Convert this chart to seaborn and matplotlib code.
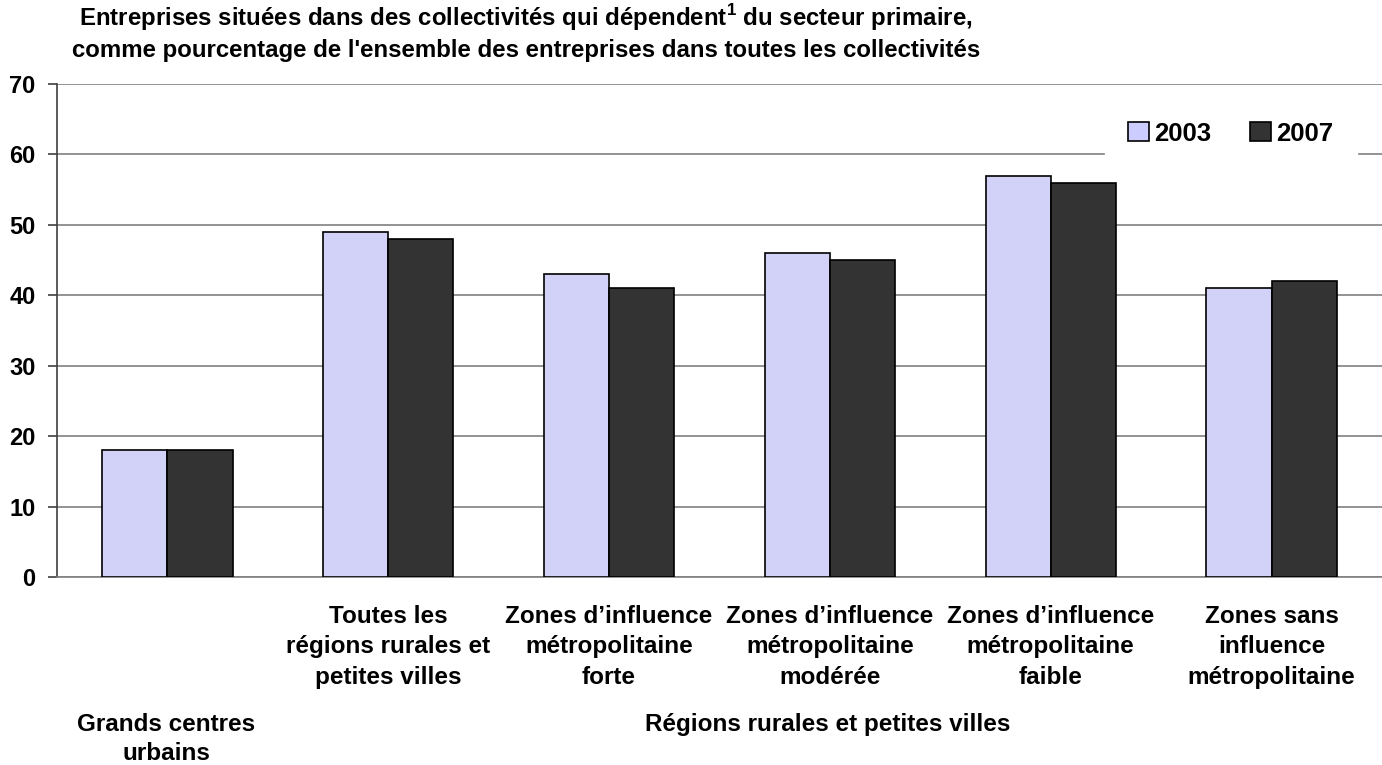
import matplotlib
matplotlib.use("Agg")
import matplotlib.pyplot as plt
import seaborn as sns
import pandas as pd
from matplotlib.patches import Patch

categories = ["", "Toutes les\nrégions rurales et\npetites villes",
              "Zones d\u2019influence\nmétropolitaine\nforte",
              "Zones d\u2019influence\nmétropolitaine\nmodérée",
              "Zones d\u2019influence\nmétropolitaine\nfaible",
              "Zones sans\ninfluence\nmétropolitaine"]
values_2003 = [18, 49, 43, 46, 57, 41]
values_2007 = [18, 48, 41, 45, 56, 42]
years = ["2003", "2007"]
colors = ["#CCCCFF", "#333333"]

rows = []
for c, a, b in zip(categories, values_2003, values_2007):
    rows.append({"cat": c, "year": "2003", "val": a})
    rows.append({"cat": c, "year": "2007", "val": b})
df = pd.DataFrame(rows)

sns.set_theme(style="white")
plt.rcParams['font.family'] = ['Liberation Sans', 'DejaVu Sans']
plt.rcParams['font.weight'] = 'bold'
plt.rcParams['text.color'] = 'black'
plt.rcParams['axes.labelcolor'] = 'black'
plt.rcParams['xtick.labelcolor'] = 'black'
plt.rcParams['ytick.labelcolor'] = 'black'
plt.rcParams['mathtext.fontset'] = 'custom'
plt.rcParams['mathtext.bf'] = 'Liberation Sans:bold'

fig = plt.figure(figsize=(13.82, 7.65), dpi=100)
ax = fig.add_axes([57/1382, 1-577/765, 1-57/1382, (577-84)/765])

sns.barplot(data=df, x="cat", y="val", hue="year", order=categories,
            hue_order=years, palette=colors, width=0.59, gap=0,
            edgecolor="black", linewidth=1.2, ax=ax, legend=False, zorder=3)

ax.set_ylim(0, 70)
ax.set_xlim(-0.5, 5.5)
ax.set_yticks(range(0, 71, 10))
ax.yaxis.grid(True, color="#808080", linewidth=1.2, zorder=0)
ax.set_axisbelow(True)
ax.set_xlabel("")
ax.set_ylabel("")
for s in ["top", "right"]:
    ax.spines[s].set_visible(False)
ax.spines["left"].set_color("#404040")
ax.spines["left"].set_linewidth(1.2)
ax.spines["bottom"].set_color("#808080")
ax.spines["bottom"].set_linewidth(1.2)
ax.tick_params(axis="y", left=True, length=6.5, width=1.2, color="#404040",
               labelsize=17, pad=9, labelcolor="black")
ax.tick_params(axis="x", bottom=False, labelsize=17.5, pad=14, labelcolor="black")
for lab in ax.get_xticklabels() + ax.get_yticklabels():
    lab.set_fontweight("bold")
for lab in ax.get_xticklabels():
    lab.set_linespacing(1.42)

fig.text(526/1382, 1-18/765, "Entreprises situées dans des collectivités qui dépendent$^\\mathbf{1}$ du secteur primaire,",
         ha="center", va="center", fontsize=17.3, fontweight="bold", color="black")
fig.text(526/1382, 1-50/765, "comme pourcentage de l'ensemble des entreprises dans toutes les collectivités",
         ha="center", va="center", fontsize=17.3, fontweight="bold", color="black")

fig.text(166/1382, 1-739/765, "Grands centres\nurbains", ha="center", va="center",
         fontsize=17.5, fontweight="bold", linespacing=1.3, color="black")
fig.text(828/1382, 1-725/765, "Régions rurales et petites villes", ha="center",
         va="center", fontsize=17.5, fontweight="bold", color="black")

handles = [Patch(facecolor=c, edgecolor="black", linewidth=1.2, label=y)
           for c, y in zip(colors, years)]
leg = ax.legend(handles=handles, ncol=2, loc="center", bbox_to_anchor=(0.886, 0.899),
                frameon=True, fancybox=False, edgecolor="white", framealpha=1,
                prop={"size": 18.5, "weight": "bold"}, handlelength=0.8,
                handleheight=0.75, handletextpad=0.22, columnspacing=1.5,
                borderpad=0.9, labelcolor="black")
leg.set_zorder(5)

fig.savefig("out.png", dpi=100)
